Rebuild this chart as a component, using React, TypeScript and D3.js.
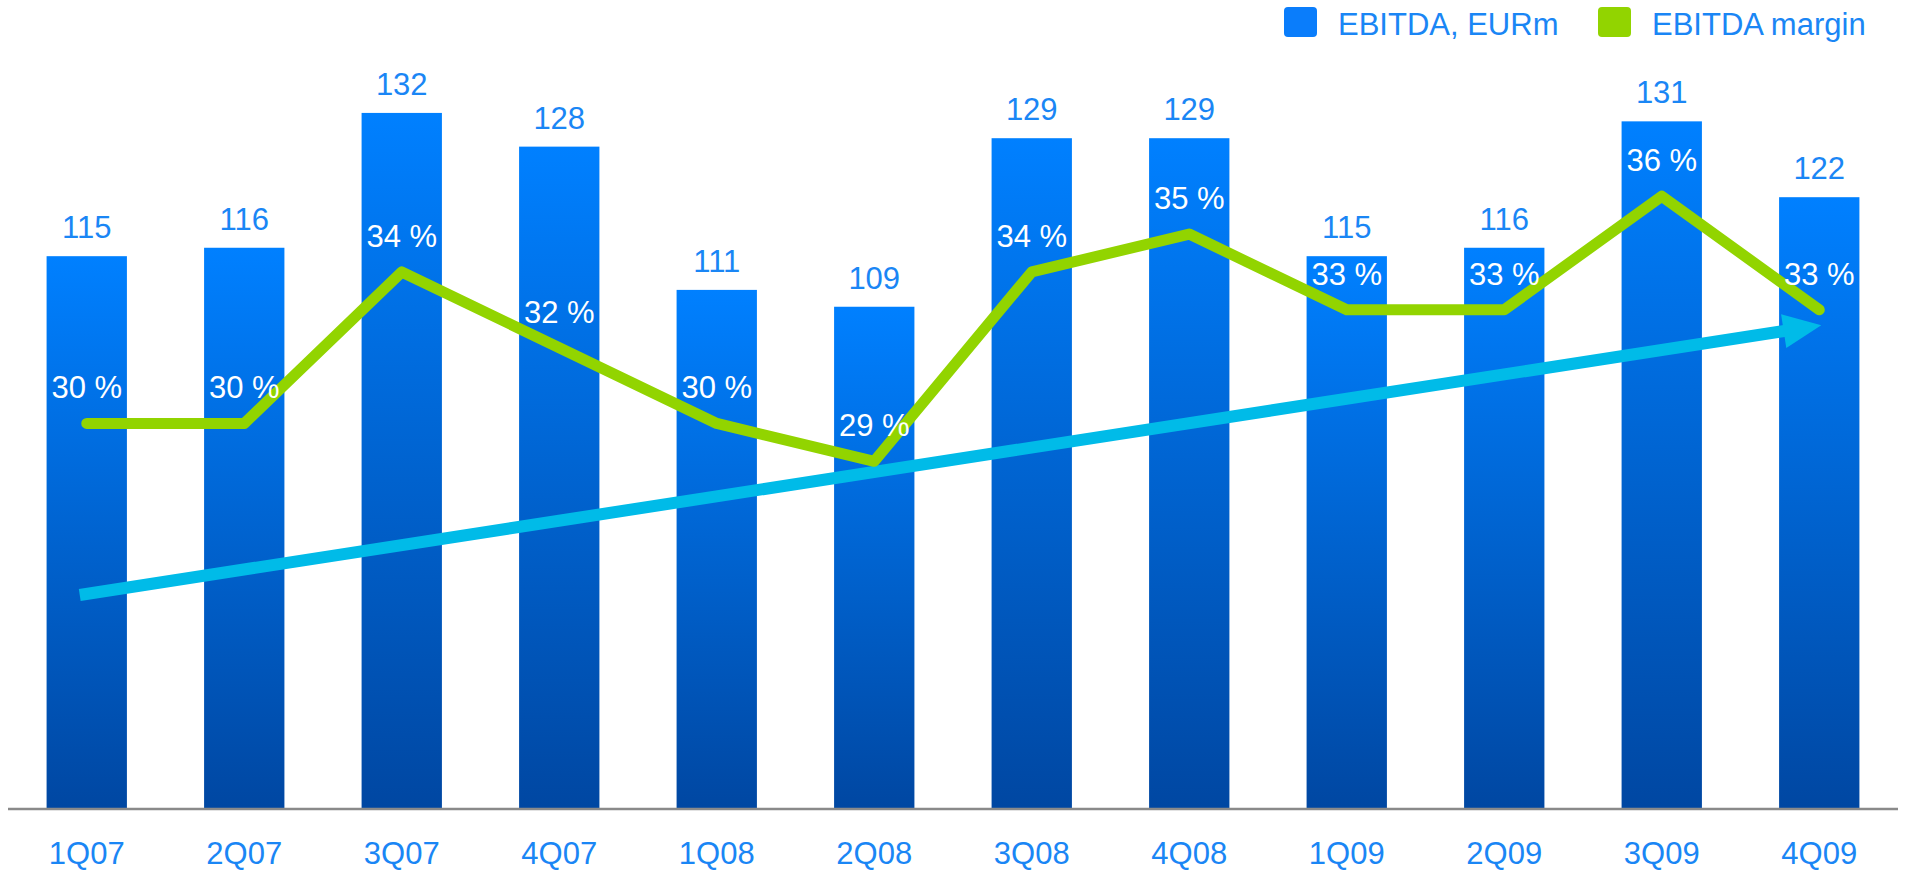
import { useEffect } from 'react';
import * as d3 from 'd3';

const quarters = ['1Q07', '2Q07', '3Q07', '4Q07', '1Q08', '2Q08', '3Q08', '4Q08', '1Q09', '2Q09', '3Q09', '4Q09'];
const ebitda = [115, 116, 132, 128, 111, 109, 129, 129, 115, 116, 131, 122];
const margin = [30, 30, 34, 32, 30, 29, 34, 35, 33, 33, 36, 33];
// trend arrow, in EBITDA units, from first to last quarter
const trendFrom = { q: '1Q07', value: 74.8 };
const trendTo = { q: '4Q09', value: 106.8 };
const legendItems = [
  { label: 'EBITDA, EURm', color: '#0a7dfb' },
  { label: 'EBITDA margin', color: '#92d400' },
];

const W = 1906;
const H = 872;
const axisY = 809;
const font = '"Liberation Sans", Arial, sans-serif';
const textBlue = '#1a86f5';

export default function App() {
  useEffect(() => {
    document.body.style.margin = '0';
  }, []);

  const x = d3
    .scaleBand()
    .domain(quarters)
    .range([8, 1898])
    .paddingInner(0.49)
    .paddingOuter(0.245);
  const cx = (q: string) => x(q)! + x.bandwidth() / 2;

  const y = d3.scaleLinear().domain([49.4, 145.4]).range([axisY, 0]);
  const yM = d3.scaleLinear().domain([19.82, 41.18]).range([axisY, 0]);

  const line = d3
    .line<number>()
    .x((_d, i) => cx(quarters[i]))
    .y((d) => yM(d));

  // trend arrow geometry
  const x0 = cx(trendFrom.q) - 7;
  const y0 = y(trendFrom.value);
  const x1 = cx(trendTo.q) + 2;
  const y1 = y(trendTo.value);
  const len = Math.hypot(x1 - x0, y1 - y0);
  const ux = (x1 - x0) / len;
  const uy = (y1 - y0) / len;
  const headLen = 38;
  const headHalf = 17;
  const bx = x1 - ux * headLen;
  const by = y1 - uy * headLen;
  const head = [
    [x1, y1],
    [bx - uy * headHalf, by + ux * headHalf],
    [bx + uy * headHalf, by - ux * headHalf],
  ]
    .map((p) => p.join(','))
    .join(' ');

  return (
    <svg width={W} height={H} style={{ display: 'block', fontFamily: font }}>
      <defs>
        <linearGradient id="barGrad" x1="0" y1="0" x2="0" y2="1">
          <stop offset="0%" stopColor="#0080ff" />
          <stop offset="100%" stopColor="#0047a2" />
        </linearGradient>
      </defs>

      {/* legend */}
      {legendItems.map((d, i) => {
        const lx = i === 0 ? 1284 : 1598;
        return (
          <g key={d.label}>
            <rect x={lx} y={7} width={33} height={30} rx={4} fill={d.color} />
            <text x={lx + 54} y={35} fontSize={31} fill={textBlue}>
              {d.label}
            </text>
          </g>
        );
      })}

      {/* bars */}
      {ebitda.map((v, i) => (
        <rect
          key={quarters[i]}
          x={x(quarters[i])}
          y={y(v)}
          width={x.bandwidth()}
          height={axisY - y(v)}
          fill="url(#barGrad)"
        />
      ))}

      {/* bar labels */}
      {ebitda.map((v, i) => (
        <text
          key={'l' + quarters[i]}
          x={cx(quarters[i])}
          y={y(v) - 18}
          textAnchor="middle"
          fontSize={31}
          fill={textBlue}
        >
          {v}
        </text>
      ))}

      {/* axis */}
      <line x1={8} x2={1898} y1={axisY} y2={axisY} stroke="#8a8a8a" strokeWidth={2.5} />
      {quarters.map((q) => (
        <text key={'a' + q} x={cx(q)} y={864} textAnchor="middle" fontSize={31} fill={textBlue}>
          {q}
        </text>
      ))}

      {/* trend arrow */}
      <line x1={x0} y1={y0} x2={bx + ux * 2} y2={by + uy * 2} stroke="#00bbe8" strokeWidth={12} />
      <polygon points={head} fill="#00bbe8" />

      {/* margin line */}
      <path
        d={line(margin) ?? ''}
        fill="none"
        stroke="#92d400"
        strokeWidth={11}
        strokeLinecap="round"
        strokeLinejoin="round"
      />
      {margin.map((m, i) => (
        <text
          key={'m' + quarters[i]}
          x={cx(quarters[i])}
          y={yM(m) - 25}
          textAnchor="middle"
          fontSize={31}
          fill="#ffffff"
        >
          {m} %
        </text>
      ))}
    </svg>
  );
}
